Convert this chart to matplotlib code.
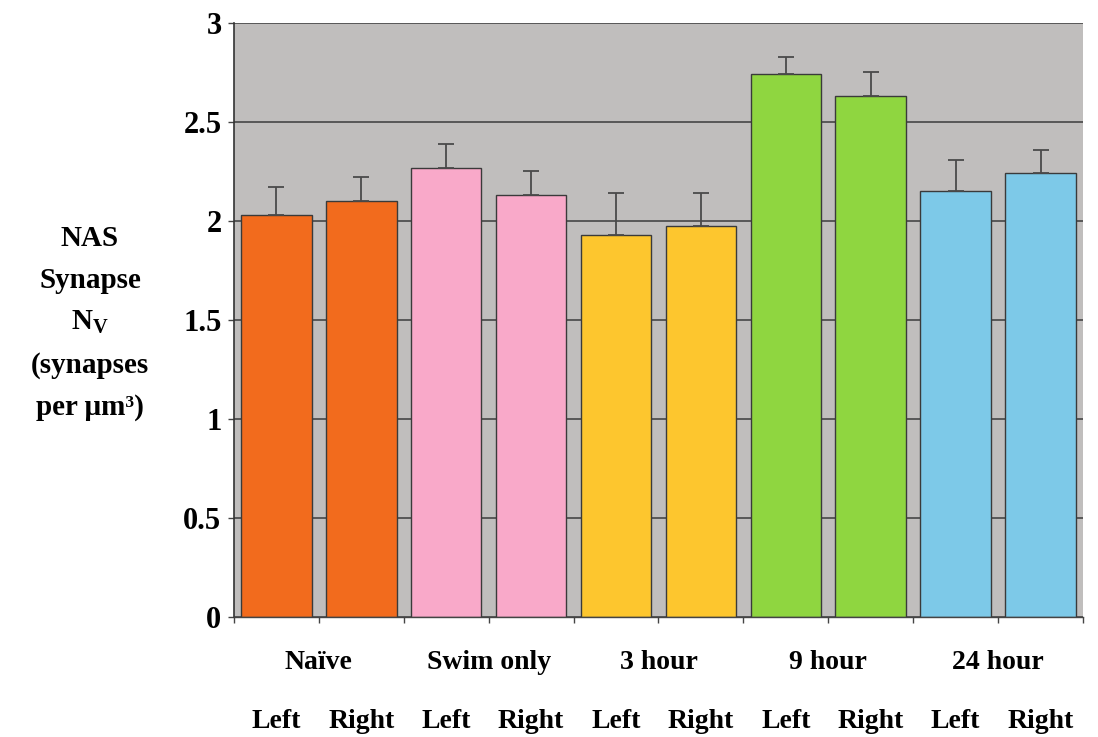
import matplotlib
matplotlib.use("Agg")
import matplotlib.pyplot as plt
import numpy as np

# Group and side labels
groups = ["Naïve", "Swim only", "3 hour", "9 hour", "24 hour"]
sides = ["Left", "Right"]

# Synapse density (mean) and upper error for each bar, Left then Right per group
means = [2.03, 2.10, 2.27, 2.13, 1.93, 1.975, 2.74, 2.63, 2.15, 2.24]
errors = [0.14, 0.12, 0.12, 0.12, 0.21, 0.165, 0.09, 0.12, 0.16, 0.12]

group_colors = ["#F26B1D", "#F9A9C9", "#FDC62E", "#8FD640", "#7DC9E8"]

y_ticks = [0, 0.5, 1, 1.5, 2, 2.5, 3]
y_ticklabels = ["0", "0.5", "1", "1.5", "2", "2.5", "3"]

serif = ["Liberation Serif", "DejaVu Serif"]
plt.rcParams["mathtext.fontset"] = "custom"
plt.rcParams["mathtext.rm"] = "Liberation Serif:bold"
plt.rcParams["mathtext.bf"] = "Liberation Serif:bold"

fig = plt.figure(figsize=(10.98, 7.37), dpi=100)
ax = fig.add_axes([0.2131, 0.1628, 0.7732, 0.8060])
ax.set_facecolor("#C0BEBD")

n = len(means)
x = np.arange(n)
colors = [group_colors[i // 2] for i in range(n)]

ax.set_axisbelow(True)
ax.yaxis.grid(True, color="#505050", linewidth=1.3)
ax.bar(x, means, width=0.83, color=colors, edgecolor="#3a3a3a", linewidth=1.0,
       zorder=2)
ax.errorbar(x, means, yerr=[np.zeros(n), errors], fmt="none", ecolor="#4a4a4a",
            elinewidth=1.3, capsize=6, capthick=1.3, zorder=3)

ax.set_xlim(-0.5, n - 0.5)
ax.set_ylim(0, 3)
ax.set_yticks(y_ticks)
ax.set_yticklabels(y_ticklabels, fontfamily=serif, fontweight="bold", fontsize=22)
ax.tick_params(axis="y", direction="out", length=4, width=1, color="#444444", pad=5)

ax.set_xticks(np.arange(n + 1) - 0.5)
ax.set_xticklabels([])
ax.tick_params(axis="x", direction="out", length=4, width=1, color="#444444")

for side in ["top", "right"]:
    ax.spines[side].set_visible(False)
ax.spines["left"].set_color("#333333")
ax.spines["left"].set_linewidth(1.2)
ax.spines["bottom"].set_color("#444444")
ax.spines["bottom"].set_linewidth(1.0)

# Group labels centred under each pair, side labels under each bar
trans = ax.get_xaxis_transform()
for gi, g in enumerate(groups):
    ax.annotate(g, xy=(2 * gi + 0.5, 0), xycoords=trans,
                xytext=(0, -33), textcoords="offset points",
                ha="center", va="center", fontfamily=serif,
                fontweight="bold", fontsize=20)
for i in range(n):
    ax.annotate(sides[i % 2], xy=(x[i], 0), xycoords=trans,
                xytext=(0, -75), textcoords="offset points",
                ha="center", va="center", fontfamily=serif,
                fontweight="bold", fontsize=20)

# Y-axis title
fig.text(0.082, 0.562,
         "NAS\nSynapse\n$\\mathbf{N_V}$\n(synapses\nper \u03bcm\u00b3)",
         ha="center", va="center", fontfamily=serif, fontweight="bold",
         fontsize=21, linespacing=1.72)

fig.savefig("out.png", dpi=100, facecolor="white")
